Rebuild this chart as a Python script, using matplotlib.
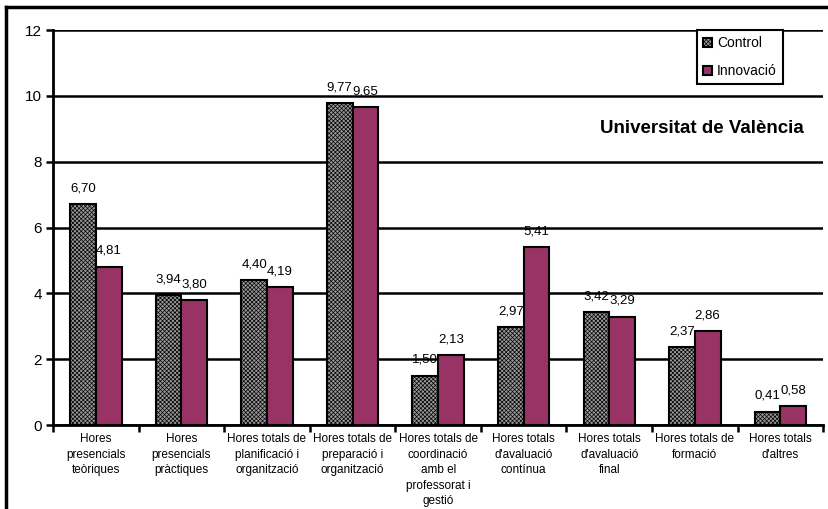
import numpy as np
import matplotlib
matplotlib.use("Agg")
import matplotlib.pyplot as plt
from matplotlib.lines import Line2D

plt.rcParams['font.family'] = ['Liberation Sans', 'DejaVu Sans']
plt.rcParams['hatch.color'] = '#4a4a4a'
plt.rcParams['hatch.linewidth'] = 0.5

categories = ["Hores\npresencials\nteòriques",
              "Hores\npresencials\npràctiques",
              "Hores totals de\nplanificació i\norganització",
              "Hores totals de\npreparació i\norganització",
              "Hores totals de\ncoordinació\namb el\nprofessorat i\ngestió",
              "Hores totals\nd'avaluació\ncontínua",
              "Hores totals\nd'avaluació\nfinal",
              "Hores totals de\nformació",
              "Hores totals\nd'altres"]
control = [6.70, 3.94, 4.40, 9.77, 1.50, 2.97, 3.42, 2.37, 0.41]
innovacio = [4.81, 3.80, 4.19, 9.65, 2.13, 5.41, 3.29, 2.86, 0.58]

fig = plt.figure(figsize=(8.29, 5.09), dpi=100)
ax = fig.add_axes([0.064, 0.165, 0.929, 0.776])

x = np.arange(len(categories)) + 0.5
w = 0.3
b1 = ax.bar(x - w/2, control, w, facecolor='#9a9a9a', hatch='xxxxxxxx',
            edgecolor='black', linewidth=1.5, label='Control', zorder=3)
b2 = ax.bar(x + w/2, innovacio, w, facecolor='#993366',
            edgecolor='black', linewidth=1.5, label='Innovació', zorder=3)

def fmt(v):
    return f"{v:.2f}".replace('.', ',')

for xi, v in zip(x - w/2, control):
    ax.text(xi, v + 0.3, fmt(v), ha='center', va='bottom', fontsize=9.5, zorder=4)
for xi, v in zip(x + w/2, innovacio):
    ax.text(xi, v + 0.3, fmt(v), ha='center', va='bottom', fontsize=9.5, zorder=4)

ax.set_xlim(0, len(categories))
ax.set_ylim(0, 12)
ax.set_yticks(range(0, 13, 2))
ax.yaxis.grid(True, color='black', linewidth=1.8, zorder=0)
ax.set_axisbelow(True)

ax.set_xticks(np.arange(len(categories) + 1))
ax.set_xticklabels([])
ax.set_xticks(x, minor=True)
ax.set_xticklabels(categories, minor=True, fontsize=8.5, linespacing=1.38)
ax.tick_params(axis='x', which='minor', length=0, pad=6)
ax.tick_params(axis='x', which='major', direction='out', length=5, width=1.8)
ax.tick_params(axis='y', direction='out', length=5, width=1.8, labelsize=11, pad=3)

for s in ['top', 'right']:
    ax.spines[s].set_visible(False)
ax.spines['left'].set_linewidth(2)
ax.spines['bottom'].set_linewidth(2)

leg = ax.legend(loc='upper right', bbox_to_anchor=(0.948, 1.0), frameon=True,
                fancybox=False, edgecolor='black', fontsize=10,
                handlelength=0.6, handleheight=0.6, handletextpad=0.4,
                labelspacing=1.0, borderpad=0.45, borderaxespad=0)
leg.get_frame().set_linewidth(1.5)
leg.get_frame().set_alpha(1)
leg.set_zorder(5)

ax.text(0.975, 0.75, "Universitat de València", transform=ax.transAxes,
        ha='right', va='center', fontsize=13.5, fontweight='bold', zorder=4)

# outer frame (left and top edges)
fig.add_artist(Line2D([0.007, 0.007], [0, 0.986], transform=fig.transFigure,
                      color='black', linewidth=2.5))
fig.add_artist(Line2D([0.007, 1.0], [0.986, 0.986], transform=fig.transFigure,
                      color='black', linewidth=2.5))

fig.savefig("out.png", dpi=100)
